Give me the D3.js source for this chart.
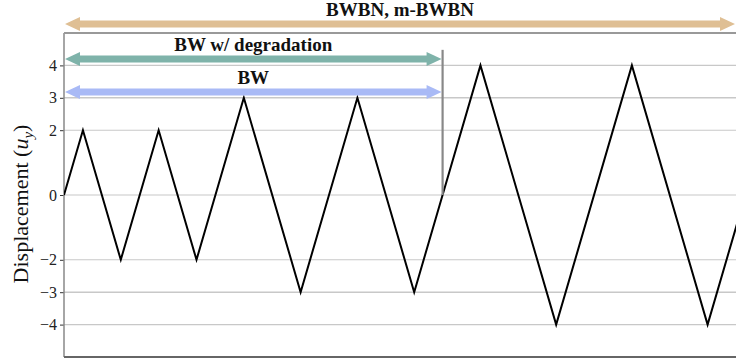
<!DOCTYPE html>
<html>
<head>
<meta charset="utf-8">
<script src="https://cdn.jsdelivr.net/npm/d3@7"></script>
<style>
  body { margin: 0; background: #fff; }
  text { font-family: "Liberation Serif", "Times New Roman", Times, serif; }
</style>
</head>
<body>
<div id="chart"></div>
<script>
// loading protocol: turning points of the imposed displacement
const time = [0, 2, 6, 10, 14, 19, 25, 31, 37, 40, 44, 52, 60, 68, 76];
const displacement = [0, 2, -2, 2, -2, 3, -3, 3, -3, 0, 4, -4, 4, -4, 4];
const yTicks = [-4, -3, -2, 0, 2, 3, 4];

// model ranges shown above the plot
const rangeLabels = ["BWBN, m-BWBN", "BW w/ degradation", "BW"];
const rangeStart = [0, 0, 0];
const rangeEnd = [71, 40, 40];
const rangeLevel = [5.28, 4.2, 3.18];
const rangeColors = ["#dfbf94", "#7fb3aa", "#a9baf6"];

const splitTime = 40;
const splitTop = 4.48;

window.onload = () => {
    const w = 736, h = 361;
    const margin = {left: 64, right: 0, top: 33, bottom: 4};
    const serif = "'Liberation Serif', 'Times New Roman', Times, serif";

    const svg = d3.select("#chart").append("svg")
        .attr("width", w).attr("height", h)
        .style("display", "block");

    const x = d3.scaleLinear().domain([0, 71]).range([margin.left, w - margin.right]);
    const y = d3.scaleLinear().domain([-5, 5]).range([h - margin.bottom, margin.top]);

    svg.append("defs").append("clipPath").attr("id", "plot-clip")
        .append("rect")
        .attr("x", margin.left).attr("y", margin.top)
        .attr("width", w - margin.left - margin.right)
        .attr("height", h - margin.top - margin.bottom);

    // grid
    svg.append("g")
        .selectAll("line")
        .data(yTicks)
        .enter()
        .append("line")
        .attr("x1", margin.left).attr("x2", w)
        .attr("y1", d => y(d)).attr("y2", d => y(d))
        .style("stroke", "#c8c8c8")
        .style("stroke-width", d => Math.abs(d) === 3 ? 1.6 : 1.1);

    // y axis
    const yAxis = svg.append("g")
        .attr("transform", `translate(${margin.left},0)`)
        .call(d3.axisLeft(y).tickValues(yTicks).tickSize(4).tickPadding(3)
            .tickFormat(d => d < 0 ? "\u2212" + Math.abs(d) : d));
    yAxis.attr("font-family", null);
    yAxis.select(".domain").remove();
    yAxis.selectAll(".tick line").style("stroke", "#333");
    yAxis.selectAll(".tick text")
        .style("font-family", serif)
        .style("font-size", "16px")
        .style("fill", "#222");

    // spines
    svg.append("line")
        .attr("x1", margin.left).attr("x2", margin.left)
        .attr("y1", margin.top).attr("y2", h - margin.bottom)
        .style("stroke", "#888").style("stroke-width", 1.5);
    svg.append("line")
        .attr("x1", margin.left).attr("x2", w)
        .attr("y1", margin.top).attr("y2", margin.top)
        .style("stroke", "#999").style("stroke-width", 2);
    svg.append("line")
        .attr("x1", margin.left).attr("x2", w)
        .attr("y1", h - margin.bottom).attr("y2", h - margin.bottom)
        .style("stroke", "#666").style("stroke-width", 2);

    // displacement history
    const points = time.map((t, i) => ({t: t, u: displacement[i]}));
    const line = d3.line().x(d => x(d.t)).y(d => y(d.u));
    svg.append("path")
        .datum(points)
        .attr("clip-path", "url(#plot-clip)")
        .attr("d", line)
        .style("fill", "none")
        .style("stroke", "#000")
        .style("stroke-width", 2)
        .style("stroke-linejoin", "miter");

    // vertical separator
    svg.append("line")
        .attr("x1", x(splitTime)).attr("x2", x(splitTime))
        .attr("y1", y(splitTop)).attr("y2", y(0))
        .style("stroke", "#888").style("stroke-width", 2.2);

    // double-headed range arrows
    const shaft = 3.5, headHalf = 7, headLen = 15;
    const arrowPath = (x0, x1, yc) => {
        const p = d3.path();
        p.moveTo(x0, yc);
        p.lineTo(x0 + headLen, yc - headHalf);
        p.lineTo(x0 + headLen, yc - shaft);
        p.lineTo(x1 - headLen, yc - shaft);
        p.lineTo(x1 - headLen, yc - headHalf);
        p.lineTo(x1, yc);
        p.lineTo(x1 - headLen, yc + headHalf);
        p.lineTo(x1 - headLen, yc + shaft);
        p.lineTo(x0 + headLen, yc + shaft);
        p.lineTo(x0 + headLen, yc + headHalf);
        p.closePath();
        return p.toString();
    };

    const ranges = rangeLabels.map((l, i) => ({
        label: l, t0: rangeStart[i], t1: rangeEnd[i], level: rangeLevel[i], color: rangeColors[i]
    }));

    const arrows = svg.selectAll(".range")
        .data(ranges)
        .enter()
        .append("g")
        .attr("class", "range");

    arrows.append("path")
        .attr("d", d => arrowPath(x(d.t0) + 1, x(d.t1) - 1, y(d.level)))
        .style("fill", d => d.color);

    arrows.append("text")
        .text(d => d.label)
        .attr("x", d => (x(d.t0) + x(d.t1)) / 2)
        .attr("y", d => y(d.level) - 8)
        .attr("text-anchor", "middle")
        .style("font-family", serif)
        .style("font-weight", "bold")
        .style("font-size", "19px")
        .style("fill", "#111");

    // y label
    const yl = svg.append("text")
        .attr("transform", `translate(28,${(margin.top + h - margin.bottom) / 2 + 9}) rotate(-90)`)
        .attr("text-anchor", "middle")
        .style("font-family", serif)
        .style("font-size", "22px")
        .style("fill", "#111");
    yl.append("tspan").text("Displacement (");
    yl.append("tspan").text("u").style("font-style", "italic");
    yl.append("tspan").text("y").style("font-style", "italic")
        .style("font-size", "15px").attr("dy", 5);
    yl.append("tspan").text(")").attr("dy", -5);
};
</script>
</body>
</html>
